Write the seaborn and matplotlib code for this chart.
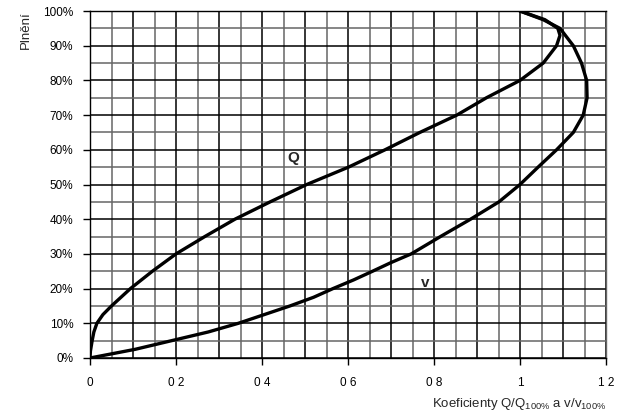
import numpy as np
import pandas as pd
import matplotlib
matplotlib.use("Agg")
import matplotlib.pyplot as plt
import seaborn as sns

# Filling (fraction of diameter) and coefficients
q_fill = [0.0, 0.02, 0.05, 0.075, 0.10, 0.125, 0.15, 0.175, 0.20, 0.25, 0.30, 0.35, 0.40, 0.45, 0.50,
          0.55, 0.60, 0.65, 0.70, 0.75, 0.80, 0.85, 0.90, 0.93, 0.95, 0.975, 1.0]
q_coef = [0.0, 0.001, 0.005, 0.009, 0.016, 0.030, 0.050, 0.072, 0.094, 0.145, 0.200, 0.267, 0.337, 0.419, 0.504,
          0.601, 0.686, 0.767, 0.853, 0.922, 1.000, 1.054, 1.085, 1.093, 1.088, 1.058, 1.0]

v_fill = [0.0, 0.025, 0.05, 0.075, 0.10, 0.125, 0.15, 0.175, 0.20, 0.225, 0.25, 0.275, 0.30, 0.35,
          0.40, 0.45, 0.50, 0.55, 0.60, 0.65, 0.70, 0.75, 0.80, 0.85, 0.90, 0.95, 0.975, 1.0]
v_coef = [0.0, 0.105, 0.190, 0.275, 0.345, 0.405, 0.465, 0.520, 0.565, 0.613, 0.657, 0.700, 0.747, 0.815,
          0.885, 0.951, 1.000, 1.042, 1.085, 1.124, 1.147, 1.156, 1.155, 1.143, 1.124, 1.093, 1.054, 1.0]

x_ticks = [0, 0.2, 0.4, 0.6, 0.8, 1.0, 1.2]
x_tick_labels = ["0", "0 2", "0 4", "0 6", "0 8", "1", "1 2"]
y_ticks = [0.0, 0.1, 0.2, 0.3, 0.4, 0.5, 0.6, 0.7, 0.8, 0.9, 1.0]
y_tick_labels = ["0%", "10%", "20%", "30%", "40%", "50%", "60%", "70%", "80%", "90%", "100%"]

sns.set_style("white")
plt.rcParams['font.family'] = ['Liberation Sans', 'DejaVu Sans']
plt.rcParams['mathtext.fontset'] = 'custom'
plt.rcParams['mathtext.rm'] = 'Liberation Sans'
plt.rcParams['mathtext.it'] = 'Liberation Sans'

fig = plt.figure(figsize=(6.19, 4.19), dpi=100)
ax = fig.add_axes([0.1454, 0.1456, 0.979 - 0.1454, 0.9737 - 0.1456])

# grid
for i in range(25):
    xv = i * 0.05
    ax.axvline(xv, color="black" if i % 2 == 0 else "#666666", lw=1.1, zorder=1)
for i in range(21):
    yv = i * 0.05
    ax.axhline(yv, color="black" if i % 2 == 0 else "#666666", lw=1.1, zorder=1)

dq = pd.DataFrame({"coef": q_coef, "fill": q_fill})
dv = pd.DataFrame({"coef": v_coef, "fill": v_fill})
sns.lineplot(data=dq, x="coef", y="fill", sort=False, estimator=None, color="black",
             lw=2.4, ax=ax, zorder=3)
sns.lineplot(data=dv, x="coef", y="fill", sort=False, estimator=None, color="black",
             lw=2.4, ax=ax, zorder=3)

ax.text(0.472, 0.576, "Q", fontsize=11, fontweight="bold", ha="center", va="center")
ax.text(0.779, 0.216, "v", fontsize=11, fontweight="bold", ha="center", va="center")

ax.set_xlim(0, 1.2)
ax.set_ylim(0, 1.0)
ax.set_xticks(x_ticks, x_tick_labels)
ax.set_yticks(y_ticks, y_tick_labels)
ax.tick_params(axis="both", direction="out", length=5, width=1, color="black",
               labelsize=8.5, labelcolor="black")
ax.tick_params(axis="x", pad=9, bottom=True)
ax.tick_params(axis="y", pad=7, left=True)
for s in ax.spines.values():
    s.set_color("black")
    s.set_linewidth(1.0)
ax.spines["right"].set_color("#666666")

ax.set_xlabel(r"Koeficienty Q/Q$_{100\%}$ a v/v$_{100\%}$", fontsize=9.5, loc="right", labelpad=5)
ax.set_ylabel("Plnění", fontsize=9.5, loc="top", labelpad=8)

fig.savefig("out.png", dpi=100)
